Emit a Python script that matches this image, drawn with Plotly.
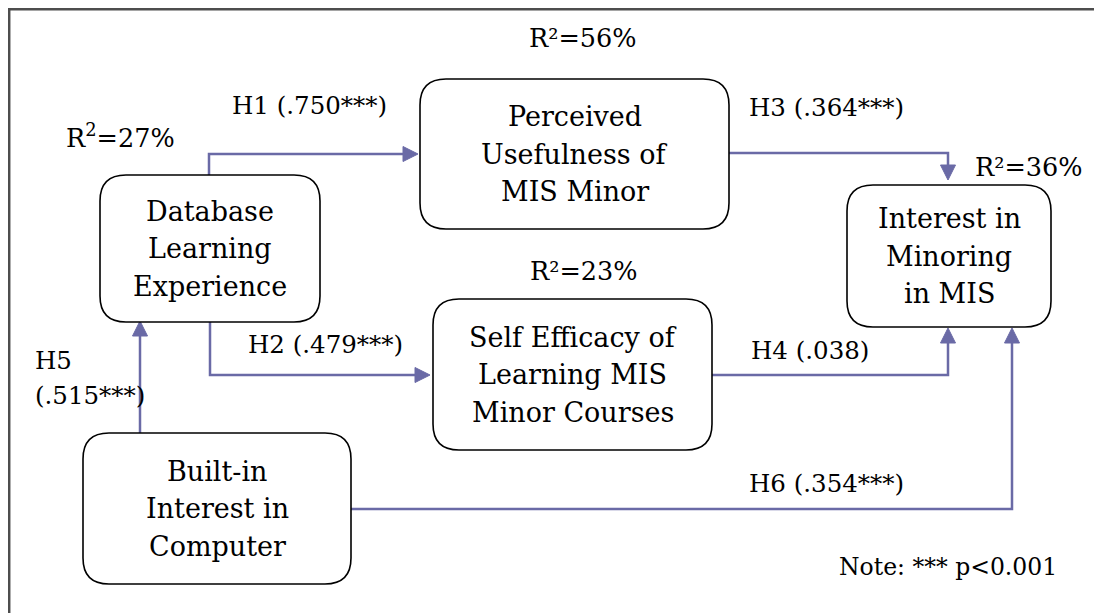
import plotly.graph_objects as go

# ---------------- data (text content) ----------------
node_ids = ["db", "pu", "se", "im", "bi"]
node_lines = [
    ["Database", "Learning", "Experience"],
    ["Perceived", "Usefulness of", "MIS Minor"],
    ["Self Efficacy of", "Learning MIS", "Minor Courses"],
    ["Interest in", "Minoring", "in MIS"],
    ["Built-in", "Interest in", "Computer"],
]
r2_labels = ["R<sup>2</sup>=27%", "R²=56%", "R²=23%", "R²=36%"]
r2_nodes = ["db", "pu", "se", "im"]
hyp_names = ["H1", "H2", "H3", "H4", "H5", "H6"]
hyp_coefs = [".750***", ".479***", ".364***", ".038", ".515***", ".354***"]
hyp_from = ["db", "db", "pu", "se", "bi", "bi"]
hyp_to = ["pu", "se", "im", "im", "db", "im"]
note_text = "Note: *** p<0.001"

# ---------------- layout / geometry (pixels) ----------------
W, H = 1102, 613
OFF = 8  # page body margin compensation
FONT = "DejaVu Serif"
FS_BOX = 27
FS_LBL = 24.5
ARROW_COLOR = "#6A6AA6"
FRAME_COLOR = "#4d4d4d"
BOX = {  # x0, x1, y0, y1
    "db": (100, 320, 175, 322),
    "pu": (420, 729, 79, 229),
    "se": (433, 712, 299, 450),
    "im": (847, 1051, 185, 327),
    "bi": (83, 351, 433, 584),
}
RADIUS = 26
LINE_GAP = 37.5

def cx(n):
    return (BOX[n][0] + BOX[n][1]) / 2

def cy(n):
    return (BOX[n][2] + BOX[n][3]) / 2

# routes: list of points, last point is arrow tip
ROUTES = {
    "H1": [(209, BOX["db"][2]), (209, 154), (BOX["pu"][0] - 2, 154)],
    "H2": [(210, BOX["db"][3]), (210, 375), (BOX["se"][0] - 3, 375)],
    "H3": [(BOX["pu"][1], 153), (948, 153), (948, BOX["im"][2] - 5)],
    "H4": [(BOX["se"][1], 375), (948, 375), (948, BOX["im"][3] + 1)],
    "H5": [(140, BOX["bi"][2]), (140, BOX["db"][3] - 1)],
    "H6": [(BOX["bi"][1], 509), (1012, 509), (1012, BOX["im"][3] + 1)],
}
HYP_POS = {  # label placement: (x, y, xanchor, two_lines)
    "H1": (309, 105, "center", False),
    "H2": (325, 344, "center", False),
    "H3": (826, 107, "center", False),
    "H4": (749, 350, "left", False),
    "H5": (33, 360, "left", True),
    "H6": (826, 483, "center", False),
}
R2_POS = {"db": (120, 136), "pu": (582, 38), "se": (583, 271), "im": (1028, 167)}
NOTE_POS = (948, 567)
HEAD_LEN, HEAD_HALF = 15, 7.5

shapes = []
annotations = []

# outer frame (top and left edges only)
shapes.append(dict(type="line", x0=8.5, x1=W + 20, y0=9.2, y1=9.2,
                   line=dict(color=FRAME_COLOR, width=2.5)))
shapes.append(dict(type="line", x0=9.2, x1=9.2, y0=8, y1=H + 20,
                   line=dict(color=FRAME_COLOR, width=2.5)))

def rrect(x0, x1, y0, y1, r):
    return (f"M {x0+r},{y0} L {x1-r},{y0} Q {x1},{y0} {x1},{y0+r} "
            f"L {x1},{y1-r} Q {x1},{y1} {x1-r},{y1} L {x0+r},{y1} "
            f"Q {x0},{y1} {x0},{y1-r} L {x0},{y0+r} Q {x0},{y0} {x0+r},{y0} Z")

# arrows
for name in hyp_names:
    pts = ROUTES[name]
    tip = pts[-1]
    prev = pts[-2]
    dx = (tip[0] > prev[0]) - (tip[0] < prev[0])
    dy = (tip[1] > prev[1]) - (tip[1] < prev[1])
    base = (tip[0] - dx * HEAD_LEN, tip[1] - dy * HEAD_LEN)
    line_pts = pts[:-1] + [base]
    path = "M " + " L ".join(f"{x},{y}" for x, y in line_pts)
    shapes.append(dict(type="path", path=path, line=dict(color=ARROW_COLOR, width=2.5)))
    px, py = -dy, dx
    tri = (f"M {tip[0]},{tip[1]} L {base[0]+px*HEAD_HALF},{base[1]+py*HEAD_HALF} "
           f"L {base[0]-px*HEAD_HALF},{base[1]-py*HEAD_HALF} Z")
    shapes.append(dict(type="path", path=tri, fillcolor=ARROW_COLOR, line=dict(color=ARROW_COLOR, width=1)))

# boxes
for nid, lines in zip(node_ids, node_lines):
    x0, x1, y0, y1 = BOX[nid]
    shapes.append(dict(type="path", path=rrect(x0, x1, y0, y1, RADIUS),
                       fillcolor="white", line=dict(color="black", width=1.6), layer="above"))
    n = len(lines)
    for i, t in enumerate(lines):
        annotations.append(dict(x=cx(nid), y=cy(nid) + (i - (n - 1) / 2) * LINE_GAP, text=t,
                                showarrow=False, xanchor="center", yanchor="middle",
                                font=dict(family=FONT, size=FS_BOX, color="black")))

# R² labels
for nid, t in zip(r2_nodes, r2_labels):
    x, y = R2_POS[nid]
    annotations.append(dict(x=x, y=y, text=t, showarrow=False, xanchor="center", yanchor="middle",
                            font=dict(family=FONT, size=FS_LBL + 1, color="black")))

# hypothesis labels
for name, coef in zip(hyp_names, hyp_coefs):
    x, y, xa, two = HYP_POS[name]
    if two:
        annotations.append(dict(x=x, y=y, text=name, showarrow=False, xanchor=xa, yanchor="middle",
                                font=dict(family=FONT, size=FS_LBL, color="black")))
        annotations.append(dict(x=x, y=y + 35, text=f"({coef})", showarrow=False, xanchor=xa,
                                yanchor="middle", font=dict(family=FONT, size=FS_LBL, color="black")))
    else:
        annotations.append(dict(x=x, y=y, text=f"{name} ({coef})", showarrow=False, xanchor=xa,
                                yanchor="middle", font=dict(family=FONT, size=FS_LBL, color="black")))

annotations.append(dict(x=NOTE_POS[0], y=NOTE_POS[1], text=note_text, showarrow=False,
                        xanchor="center", yanchor="middle",
                        font=dict(family=FONT, size=23.5, color="black")))

fig = go.Figure()
fig.update_layout(
    width=W, height=H,
    margin=dict(l=0, r=0, t=0, b=0),
    paper_bgcolor="white", plot_bgcolor="white",
    xaxis=dict(range=[OFF, W + OFF], visible=False, fixedrange=True),
    yaxis=dict(range=[H + OFF, OFF], visible=False, fixedrange=True),
    shapes=shapes, annotations=annotations, showlegend=False,
)
fig.write_html("out.html")
